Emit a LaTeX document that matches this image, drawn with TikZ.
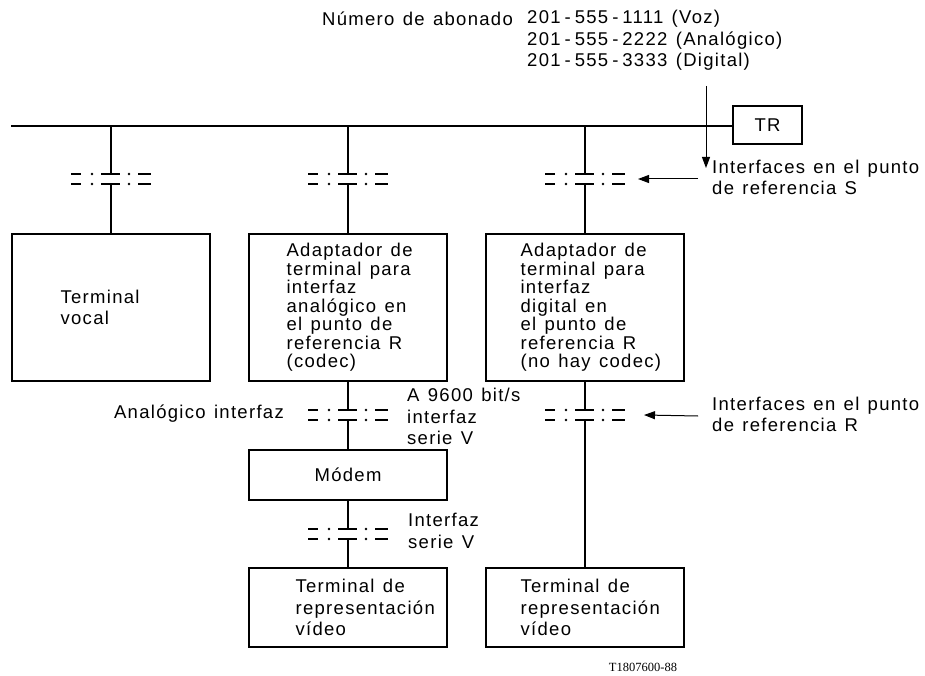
\documentclass[tikz,border=0pt]{standalone}
\usepackage{fontspec}
\setmainfont{Liberation Sans}[LetterSpace=7, WordSpace=1.3]
\newfontfamily\refont{Liberation Serif}
\usetikzlibrary{arrows.meta}
\usetikzlibrary{positioning}

\tikzset{
  blk/.style={draw, line width=1.2pt, minimum width=198pt, inner sep=0pt},
  txt/.style={inner sep=0pt, align=left, font=\fontsize{18.5}{21.5}\selectfont},
  boxtxt/.style={txt, font=\fontsize{18.5}{18.5}\selectfont},
  wire/.style={line width=1.2pt},
  pointer/.style={line width=1pt, -{Triangle[length=11pt, width=8pt]}},
  bar/.style={line width=2.2pt},
  iface/.pic={
    \foreach \yy in {-5,5} {
      \draw[bar] (-40,\yy) -- (-30,\yy);
      \draw[bar] (-10,\yy) -- (9,\yy);
      \draw[bar] (27,\yy) -- (40,\yy);
      \fill (-19,\yy) circle (1.3pt);
      \fill (18,\yy) circle (1.3pt);
    }
  }
}
\newcommand{\hy}{\hspace{4pt}-\hspace{4pt}}

\begin{document}
\begin{tikzpicture}[x=1pt,y=1pt]
\useasboundingbox (0,0) rectangle (925,-676);
% bus and TR
\node[blk, txt, minimum width=69pt, minimum height=38pt] (tr) at (767.5,-125) {TR};
\coordinate (busL) at (11,-126);
\draw[wire] (busL) -- (busL -| tr.west);

% boxes
\node[blk, minimum height=147pt] (voc) at (111,-307.5) {};
\node[blk, minimum height=147pt] (ad1) at (348,-307.5) {};
\node[blk, minimum height=147pt] (ad2) at (585,-307.5) {};
\node[blk, txt, minimum width=198pt, minimum height=50pt] (modem) at (348,-475) {Módem};
\node[blk, minimum height=79pt] (vid1) at (348,-607.5) {};
\node[blk, minimum height=79pt] (vid2) at (585,-607.5) {};

\node[txt, anchor=west] (vocT) at ([xshift=49pt]voc.west) {Terminal\\vocal};
\node[boxtxt, anchor=west] (ad1T) at ([xshift=38pt]ad1.west) {Adaptador de\\terminal para\\interfaz\\analógico en\\el punto de\\referencia R\\(codec)};
\node[boxtxt, anchor=west] (ad2T) at ([xshift=35pt]ad2.west) {Adaptador de\\terminal para\\interfaz\\digital en\\el punto de\\referencia R\\(no hay codec)};
\node[txt, anchor=west] (vid1T) at ([xshift=47pt]vid1.west) {Terminal de\\representación\\vídeo};
\node[txt, anchor=west] (vid2T) at ([xshift=35pt]vid2.west) {Terminal de\\representación\\vídeo};

% interfaces
\coordinate (s1) at (111,-179);
\coordinate (s2) at (348,-179);
\coordinate (s3) at (585,-179);
\coordinate (r2) at (348,-415);
\coordinate (r3) at (585,-415);
\coordinate (v2) at (348,-534);
\foreach \p in {s1,s2,s3,r2,r3,v2}
  \pic at (\p) {iface};

\draw[wire] (s1 |- busL) -- ([yshift=5pt]s1);
\draw[wire] ([yshift=-5pt]s1) -- (voc.north);
\draw[wire] (s2 |- busL) -- ([yshift=5pt]s2);
\draw[wire] ([yshift=-5pt]s2) -- (ad1.north);
\draw[wire] (s3 |- busL) -- ([yshift=5pt]s3);
\draw[wire] ([yshift=-5pt]s3) -- (ad2.north);
\draw[wire] (ad1.south) -- ([yshift=5pt]r2);
\draw[wire] ([yshift=-5pt]r2) -- (modem.north);
\draw[wire] (modem.south) -- ([yshift=5pt]v2);
\draw[wire] ([yshift=-5pt]v2) -- (vid1.north);
\draw[wire] (ad2.south) -- ([yshift=5pt]r3);
\draw[wire] ([yshift=-5pt]r3) -- (vid2.north);

% labels
\node[txt, anchor=west] (abon) at (322,-19) {Número de abonado};
\node[txt, anchor=west] (nums) at (527,-40.5) {201\hy555\hy1111 (Voz)\\201\hy555\hy2222 (Analógico)\\201\hy555\hy3333 (Digital)};
\node[txt, anchor=west] (labS) at (712,-177.5) {Interfaces en el punto\\de referencia S};
\node[txt, anchor=west] (labR) at (712,-414.5) {Interfaces en el punto\\de referencia R};
\node[txt, anchor=east] (ana) at (284,-414) {Analógico interfaz};
\node[txt, anchor=west] (v24a) at (407,-416.5) {A 9600 bit/s\\interfaz\\serie V};
\node[txt, anchor=west] (v24b) at (408,-531) {Interfaz\\serie V};
\node[font=\refont\fontsize{12.5}{12.5}\selectfont, inner sep=0pt] (code) at (643,-667) {T1807600-88};

% arrows
\coordinate (numA) at (706,-86);
\coordinate (numB) at (706,-168);
\draw[pointer] (numA) -- (numB);
\coordinate (tS) at (698,-179);
\draw[pointer] (tS) -- ([xshift=53pt]s3);
\coordinate (tR) at (698,-416);
\draw[pointer] (tR) -- ([xshift=59pt]r3);
\end{tikzpicture}
\end{document}
